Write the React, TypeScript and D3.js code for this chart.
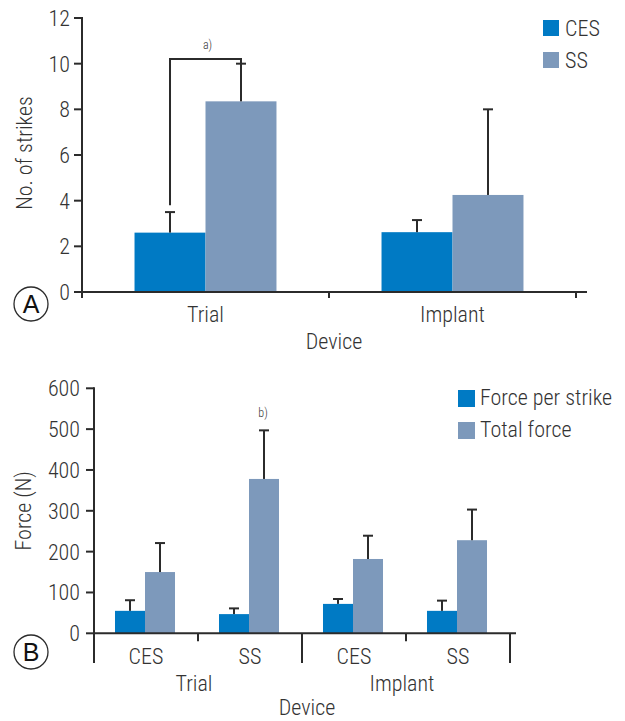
import React, { useEffect, useRef } from 'react';
import * as d3 from 'd3';

// Panel A: number of strikes
const devicesA = ['Trial', 'Implant'];
const seriesA = ['CES', 'SS'];
const strikesMean = [
  [2.6, 8.35],
  [2.62, 4.25],
];
const strikesErr = [
  [3.5, 10.0],
  [3.15, 8.0],
];
const ticksA = [0, 2, 4, 6, 8, 10, 12];

// Panel B: force
const devicesB = ['Trial', 'Implant'];
const groupsB = ['CES', 'SS'];
const seriesB = ['Force per strike', 'Total force'];
const forceMean = [
  [[55, 150], [47, 378]],
  [[72, 182], [55, 228]],
];
const forceErr = [
  [[81, 221], [61, 497]],
  [[84, 239], [80, 303]],
];
const ticksB = [0, 100, 200, 300, 400, 500, 600];

const colors = ['#007ac4', '#7d99bb'];
const ink = '#2b2b2b';
const textColor = '#333';
const font = "'Liberation Sans Narrow', 'Arial Narrow', 'Roboto Condensed', Roboto, sans-serif";

const App = () => {
  const svgRef = useRef(null);

  useEffect(() => {
    const svg = d3.select(svgRef.current);
    svg.selectAll('*').remove();
    svg.attr('font-family', font).attr('font-weight', 300);

    const errorBar = (g, x, y0, y1) => {
      g.append('line').attr('x1', x).attr('x2', x).attr('y1', y0).attr('y2', y1)
        .attr('stroke', ink).attr('stroke-width', 2);
      g.append('line').attr('x1', x - 5).attr('x2', x + 5).attr('y1', y1).attr('y2', y1)
        .attr('stroke', ink).attr('stroke-width', 2);
    };

    // ---------- Panel A ----------
    const a = svg.append('g');
    const yA = d3.scaleLinear().domain([0, 12]).range([292, 18]);
    const xA = d3.scaleBand().domain(devicesA).range([82, 576]);
    const xA1 = d3.scaleBand().domain(seriesA).range([0, xA.bandwidth()]).paddingOuter(0.74);

    devicesA.forEach((dev, i) => {
      seriesA.forEach((s, j) => {
        const x = xA(dev) + xA1(s);
        a.append('rect')
          .attr('x', x).attr('y', yA(strikesMean[i][j]))
          .attr('width', xA1.bandwidth()).attr('height', yA(0) - yA(strikesMean[i][j]))
          .attr('fill', colors[j]);
      });
      seriesA.forEach((s, j) => {
        const cx = xA(dev) + xA1(s) + xA1.bandwidth() / 2;
        errorBar(a, cx, yA(strikesMean[i][j]), yA(strikesErr[i][j]));
      });
    });

    // significance bracket
    const bl = xA('Trial') + xA1('CES') + xA1.bandwidth() / 2;
    const br = xA('Trial') + xA1('SS') + xA1.bandwidth() / 2;
    const by = yA(10.2);
    a.append('path')
      .attr('d', `M${bl},${yA(3.8)}V${by}H${br}V${yA(strikesErr[0][1])}`)
      .attr('fill', 'none').attr('stroke', ink).attr('stroke-width', 2);
    a.append('text').attr('x', (bl + br) / 2 + 2).attr('y', by - 10)
      .attr('text-anchor', 'middle').attr('font-size', 12).attr('fill', textColor).text('a)');

    // axes
    a.append('line').attr('x1', 82).attr('x2', 587).attr('y1', yA(0)).attr('y2', yA(0))
      .attr('stroke', ink).attr('stroke-width', 2);
    a.append('line').attr('x1', 82).attr('x2', 82).attr('y1', yA(12) - 1).attr('y2', yA(0) + 6)
      .attr('stroke', ink).attr('stroke-width', 2);
    [...devicesA.map(d => xA(d)), 576].forEach(x => {
      a.append('line').attr('x1', x).attr('x2', x).attr('y1', yA(0)).attr('y2', yA(0) + 6)
        .attr('stroke', ink).attr('stroke-width', 2);
    });
    ticksA.forEach(t => {
      a.append('line').attr('x1', 74).attr('x2', 82).attr('y1', yA(t)).attr('y2', yA(t))
        .attr('stroke', ink).attr('stroke-width', 2);
      a.append('text').attr('x', 70).attr('y', yA(t)).attr('dy', '0.36em')
        .attr('text-anchor', 'end').attr('font-size', 22).attr('fill', textColor).text(t);
    });
    devicesA.forEach(dev => {
      a.append('text').attr('x', xA(dev) + xA.bandwidth() / 2).attr('y', 322)
        .attr('text-anchor', 'middle').attr('font-size', 22).attr('fill', textColor).text(dev);
    });
    a.append('text').attr('x', 334).attr('y', 349).attr('text-anchor', 'middle')
      .attr('font-size', 22).attr('fill', textColor).text('Device');
    a.append('text').attr('transform', `translate(32,${(yA(0) + yA(12)) / 2 - 2}) rotate(-90)`)
      .attr('text-anchor', 'middle').attr('font-size', 22).attr('fill', textColor).text('No. of strikes');

    // legend A
    seriesA.forEach((s, j) => {
      a.append('rect').attr('x', 543).attr('y', 20 + j * 32).attr('width', 16).attr('height', 16)
        .attr('fill', colors[j]);
      a.append('text').attr('x', 565).attr('y', 36 + j * 32).attr('font-size', 22)
        .attr('fill', textColor).text(s);
    });

    // ---------- Panel B ----------
    const b = svg.append('g');
    const yB = d3.scaleLinear().domain([0, 600]).range([633.3, 388.3]);
    const xB = d3.scaleBand().domain(devicesB).range([94, 510]);
    const xB1 = d3.scaleBand().domain(groupsB).range([0, xB.bandwidth()]);
    const xB2 = d3.scaleBand().domain(seriesB).range([0, xB1.bandwidth()]).paddingOuter(0.733);

    devicesB.forEach((dev, i) => {
      groupsB.forEach((g, k) => {
        seriesB.forEach((s, j) => {
          const x = xB(dev) + xB1(g) + xB2(s) - 1;
          b.append('rect')
            .attr('x', x).attr('y', yB(forceMean[i][k][j]))
            .attr('width', xB2.bandwidth()).attr('height', yB(0) - yB(forceMean[i][k][j]))
            .attr('fill', colors[j]);
        });
        seriesB.forEach((s, j) => {
          const cx = xB(dev) + xB1(g) + xB2(s) - 1 + xB2.bandwidth() / 2;
          errorBar(b, cx, yB(forceMean[i][k][j]), yB(forceErr[i][k][j]));
        });
      });
    });

    const bx = xB('Trial') + xB1('SS') + xB2('Total force') - 1 + xB2.bandwidth() / 2;
    b.append('text').attr('x', bx - 1).attr('y', yB(forceErr[0][1][1]) - 13)
      .attr('text-anchor', 'middle').attr('font-size', 12).attr('fill', textColor).text('b)');

    // axes
    b.append('line').attr('x1', 94).attr('x2', 516).attr('y1', yB(0)).attr('y2', yB(0))
      .attr('stroke', ink).attr('stroke-width', 2);
    b.append('line').attr('x1', 94).attr('x2', 94).attr('y1', yB(600) - 1).attr('y2', 663)
      .attr('stroke', ink).attr('stroke-width', 2);
    [...devicesB.map(d => xB(d)), 510].forEach(x => {
      b.append('line').attr('x1', x).attr('x2', x).attr('y1', yB(0)).attr('y2', 663)
        .attr('stroke', ink).attr('stroke-width', 2);
    });
    devicesB.forEach(dev => {
      const x = xB(dev) + xB1('SS');
      b.append('line').attr('x1', x).attr('x2', x).attr('y1', yB(0)).attr('y2', yB(0) + 8)
        .attr('stroke', ink).attr('stroke-width', 2);
    });
    ticksB.forEach(t => {
      b.append('line').attr('x1', 86).attr('x2', 94).attr('y1', yB(t)).attr('y2', yB(t))
        .attr('stroke', ink).attr('stroke-width', 2);
      b.append('text').attr('x', 80).attr('y', yB(t)).attr('dy', '0.36em')
        .attr('text-anchor', 'end').attr('font-size', 22).attr('fill', textColor).text(t);
    });
    devicesB.forEach(dev => {
      groupsB.forEach(g => {
        b.append('text').attr('x', xB(dev) + xB1(g) + xB1.bandwidth() / 2).attr('y', 664)
          .attr('text-anchor', 'middle').attr('font-size', 22).attr('fill', textColor).text(g);
      });
      b.append('text').attr('x', xB(dev) + xB.bandwidth() / 2 - 4).attr('y', 691)
        .attr('text-anchor', 'middle').attr('font-size', 22).attr('fill', textColor).text(dev);
    });
    b.append('text').attr('x', 307).attr('y', 715).attr('text-anchor', 'middle')
      .attr('font-size', 22).attr('fill', textColor).text('Device');
    b.append('text').attr('transform', `translate(31,${(yB(0) + yB(600)) / 2}) rotate(-90)`)
      .attr('text-anchor', 'middle').attr('font-size', 22).attr('fill', textColor).text('Force (N)');

    // legend B
    seriesB.forEach((s, j) => {
      b.append('rect').attr('x', 458).attr('y', 390 + j * 32).attr('width', 17).attr('height', 17)
        .attr('fill', colors[j]);
      b.append('text').attr('x', 480).attr('y', 405 + j * 32).attr('font-size', 22)
        .attr('fill', textColor).text(s);
    });

    // panel letters
    [['A', 31, 304], ['B', 31, 652]].forEach(([l, cx, cy]) => {
      svg.append('circle').attr('cx', cx).attr('cy', cy).attr('r', 17)
        .attr('fill', 'none').attr('stroke', ink).attr('stroke-width', 1.3);
      svg.append('text').attr('x', cx).attr('y', cy).attr('dy', '0.36em')
        .attr('text-anchor', 'middle').attr('font-size', 25).attr('fill', '#111')
        .attr('font-weight', 400)
        .attr('font-family', 'Liberation Sans, Arial, sans-serif').text(l);
    });
  }, []);

  return (
    <svg ref={svgRef} width={625} height={721} viewBox="0 0 625 721"
      style={{ position: 'absolute', left: 0, top: 0, background: '#fff' }}></svg>
  );
};

export default App;
